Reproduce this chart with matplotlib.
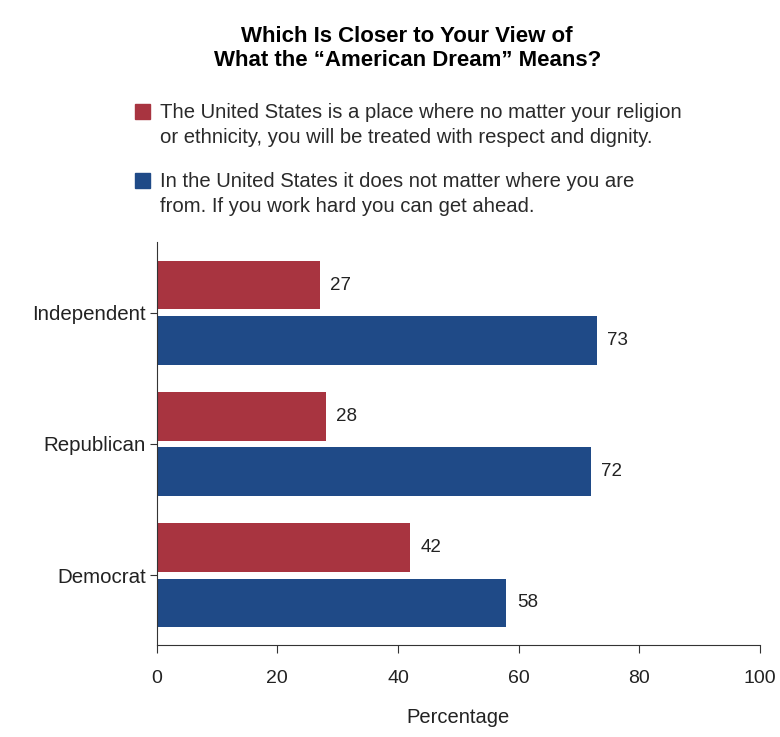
import numpy as np
import matplotlib
matplotlib.use("Agg")
import matplotlib.pyplot as plt
from matplotlib.patches import Rectangle

# Dados
grupos = ["Democrat", "Republican", "Independent"]
respeito = [42, 28, 27]
trabalho = [58, 72, 73]
legenda = [
    "The United States is a place where no matter your religion\nor ethnicity, you will be treated with respect and dignity.",
    "In the United States it does not matter where you are\nfrom. If you work hard you can get ahead.",
]
x_ticks = [0, 20, 40, 60, 80, 100]

cor_verm = "#A83440"
cor_azul = "#1F4A87"

plt.rcParams["font.family"] = ["Liberation Sans", "DejaVu Sans"]

fig = plt.figure(figsize=(7.8, 7.37), dpi=100)
ax = fig.add_axes([0.201, 0.125, 0.773, 0.547])

y = np.arange(len(grupos))
h = 0.37
ax.barh(y + 0.21, respeito, height=h, color=cor_verm)
ax.barh(y - 0.21, trabalho, height=h, color=cor_azul)

for yi, v in zip(y, respeito):
    ax.text(v + 1.7, yi + 0.21, str(v), va="center", ha="left", fontsize=13.5, color="#222222")
for yi, v in zip(y, trabalho):
    ax.text(v + 1.7, yi - 0.21, str(v), va="center", ha="left", fontsize=13.5, color="#222222")

ax.set_xlim(0, 100)
ax.set_ylim(-0.53, 2.54)
ax.set_xticks(x_ticks)
ax.set_xticklabels([str(t) for t in x_ticks], fontsize=14)
ax.set_yticks(y)
ax.set_yticklabels(grupos, fontsize=14.8)
ax.tick_params(axis="x", length=6, pad=12, color="#333333", labelcolor="#222222")
ax.tick_params(axis="y", length=5, pad=3, color="#333333", labelcolor="#222222")
ax.set_xlabel("Percentage", fontsize=14.5, labelpad=15, color="#222222")
for s in ["top", "right"]:
    ax.spines[s].set_visible(False)
ax.spines["left"].set_color("#333333")
ax.spines["bottom"].set_color("#333333")

# Título
fig.text(0.522, 1 - 48.5 / 737, "Which Is Closer to Your View of\nWhat the \u201cAmerican Dream\u201d Means?",
         ha="center", va="center", fontsize=16, fontweight="bold", linespacing=1.2)

# Legenda manual
for i, (txt, cor) in enumerate(zip(legenda, [cor_verm, cor_azul])):
    ytop = 1 - (104 + 69 * i) / 737
    fig.patches.append(Rectangle((135 / 780, ytop - 15 / 737), 15 / 780, 15 / 737,
                                 transform=fig.transFigure, color=cor))
    fig.text(160 / 780, ytop + 1 / 737, txt, ha="left", va="top", fontsize=14.6,
             linespacing=1.38, color="#2a2a2a")

plt.savefig("out.png", dpi=100)
